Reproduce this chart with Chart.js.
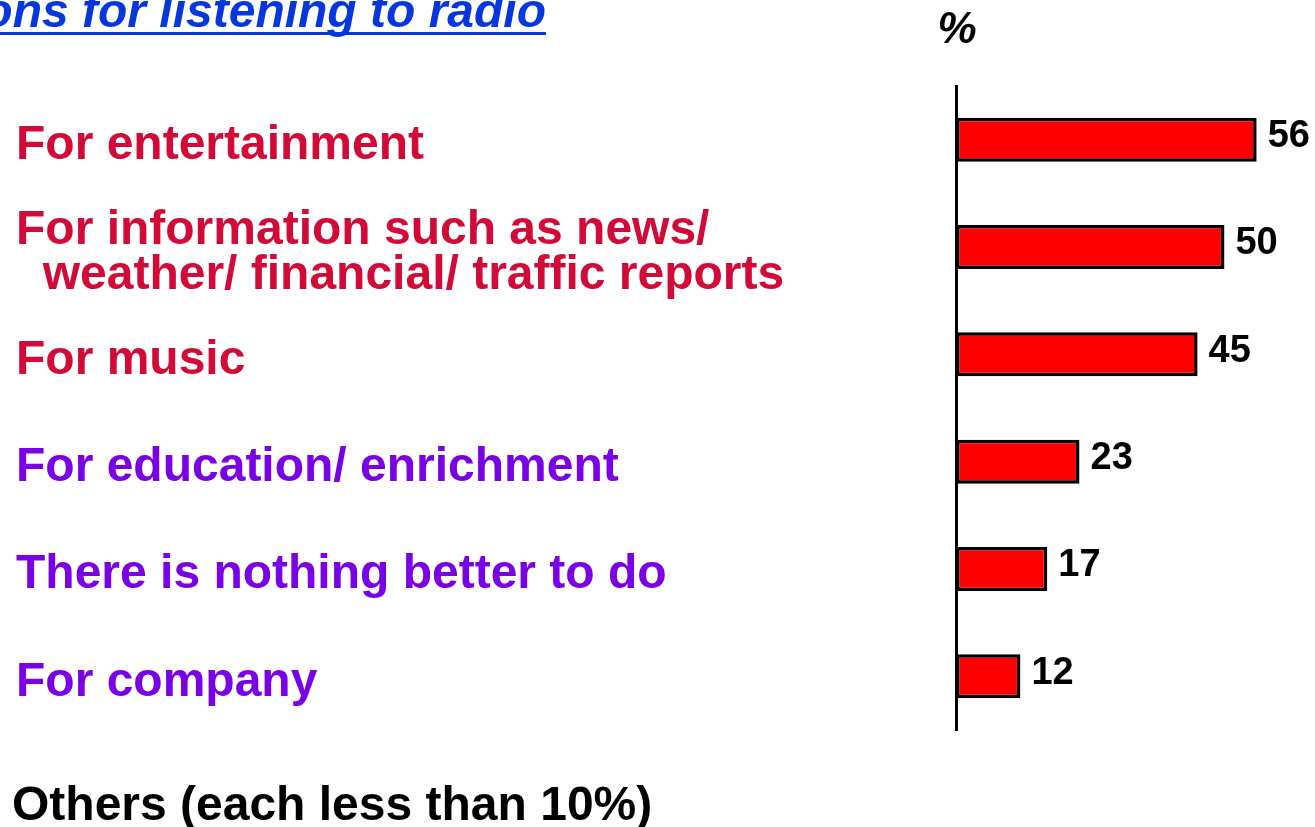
<!DOCTYPE html>
<html>
<head>
<meta charset="utf-8">
<title>Reasons for listening to radio</title>
<script src="https://cdn.jsdelivr.net/npm/chart.js@4.4.1/dist/chart.umd.min.js"></script>
<style>
  html, body { margin: 0; padding: 0; background: #fff; }
  #wrap { position: relative; width: 1315px; height: 827px; overflow: hidden; }
</style>
</head>
<body>
<div id="wrap"><canvas id="radioChart"></canvas></div>
<script>
// survey answers, top to bottom
const reasons = [
  "For entertainment",
  ["For information such as news/", "  weather/ financial/ traffic reports"],
  "For music",
  "For education/ enrichment",
  "There is nothing better to do",
  "For company"
];
const percents = [56, 50, 45, 23, 17, 12];
const titleText = "Reasons for listening to radio";
const unitText = "%";
const othersText = "Others (each less than 10%)";

const FONT = "'Liberation Sans', Arial, Helvetica, sans-serif";
const RED_TEXT = "#D20A37";
const PURPLE_TEXT = "#7A00E6";
const labelColors = [RED_TEXT, RED_TEXT, RED_TEXT, PURPLE_TEXT, PURPLE_TEXT, PURPLE_TEXT];

// value labels next to the bars + the loose text around the chart
const annotations = {
  id: "annotations",
  afterDatasetsDraw(chart) {
    const ctx = chart.ctx;
    const meta = chart.getDatasetMeta(0);
    ctx.save();
    ctx.fillStyle = "#000";
    ctx.font = "bold 38px " + FONT;
    ctx.textAlign = "left";
    ctx.textBaseline = "middle";
    meta.data.forEach((bar, i) => {
      ctx.fillText(String(percents[i]), bar.x + 11, bar.y - 3);
    });
    ctx.restore();
  },
  afterDraw(chart) {
    const ctx = chart.ctx;
    const area = chart.chartArea;
    ctx.save();
    // title runs off the left edge
    ctx.fillStyle = "#0536DE";
    ctx.font = "italic bold 48px " + FONT;
    ctx.textAlign = "right";
    ctx.textBaseline = "alphabetic";
    ctx.fillText(titleText, 546, 27);
    ctx.fillRect(0, 32, 546, 3);

    ctx.fillStyle = "#000";
    ctx.font = "italic bold 44px " + FONT;
    ctx.textAlign = "center";
    ctx.fillText(unitText, area.left + 1, 43);

    ctx.font = "bold 48px " + FONT;
    ctx.textAlign = "left";
    ctx.fillText(othersText, 12, 820);
    ctx.restore();
  }
};

new Chart(document.getElementById("radioChart"), {
  type: "bar",
  data: {
    labels: reasons,
    datasets: [{
      data: percents,
      backgroundColor: "#FF0000",
      borderColor: "#000",
      borderWidth: 3.5,
      borderSkipped: false,
      barPercentage: 0.82,
      categoryPercentage: 0.5
    }]
  },
  options: {
    indexAxis: "y",
    responsive: true,
    maintainAspectRatio: false,
    animation: false,
    layout: { padding: { top: 86, bottom: 97, left: 16, right: 10 } },
    plugins: {
      legend: { display: false },
      tooltip: { enabled: false }
    },
    scales: {
      x: { display: false, min: 0, max: 65 },
      y: {
        afterFit: (scale) => { scale.width = 940; },
        grid: { display: false },
        border: { display: true, color: "#000", width: 3 },
        ticks: {
          autoSkip: false,
          crossAlign: "far",
          labelOffset: 6,
          padding: 0,
          color: (c) => labelColors[c.index],
          font: { family: FONT, size: 48, weight: "bold", lineHeight: 0.93 }
        }
      }
    }
  },
  plugins: [annotations]
});
</script>
</body>
</html>
